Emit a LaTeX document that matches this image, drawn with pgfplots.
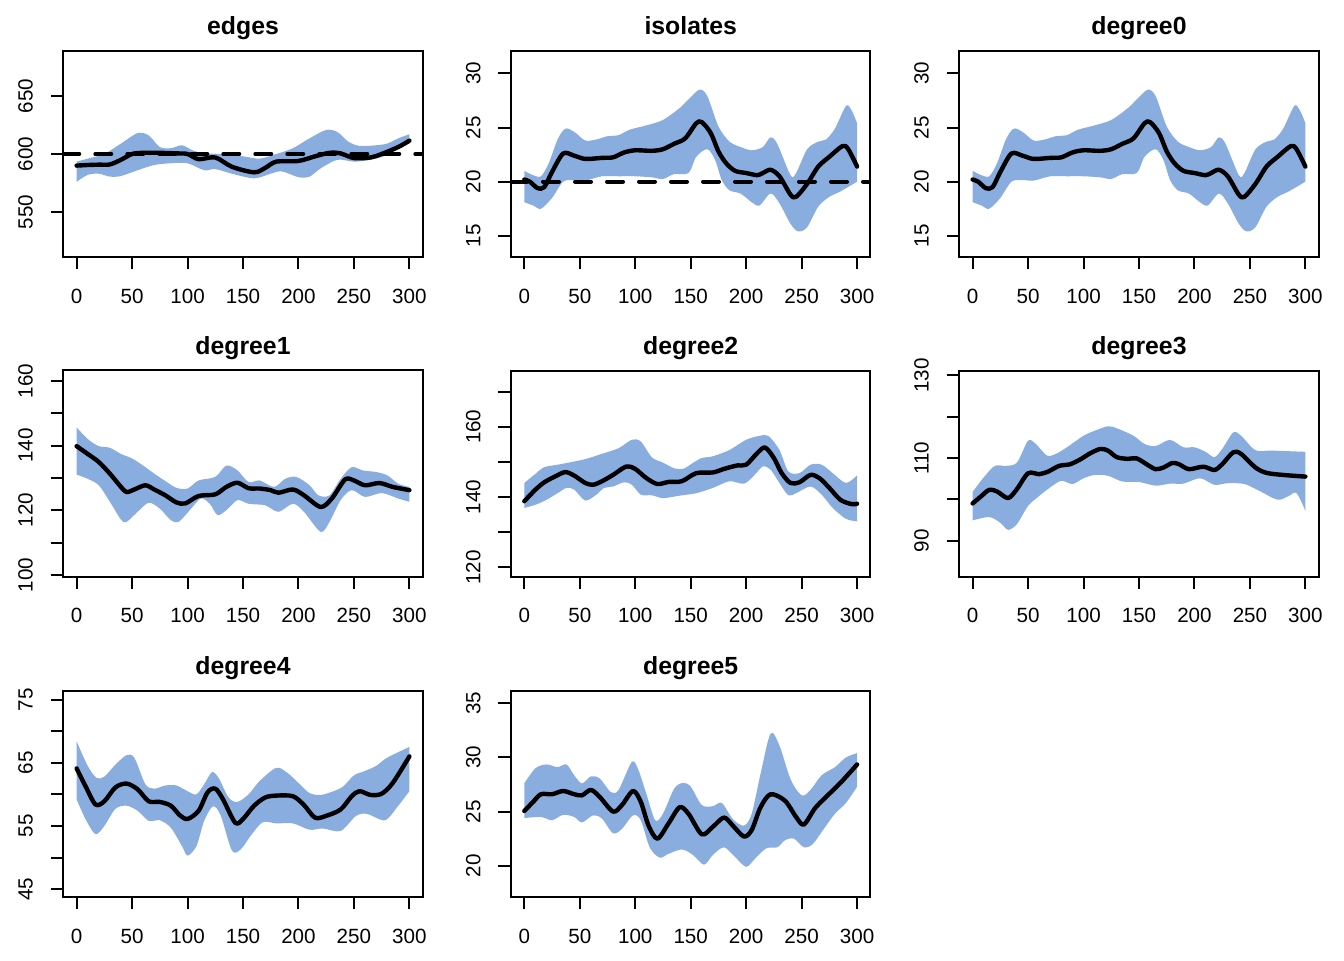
\documentclass[border=0pt]{standalone}
\usepackage{fontspec}
\setmainfont{Liberation Sans}
\usepackage{pgfplots}
\usepackage{pgfplotstable}
\pgfplotsset{compat=1.18}
\usepgfplotslibrary{fillbetween}

\definecolor{band}{RGB}{138,173,224}

% isolates and degree0 show the same simulation
\pgfplotstableread{
x y
0 20.2
5 20
12 19.4
18 19.5
25 20.9
35 22.6
45 22.4
55 22.1
70 22.2
80 22.25
90 22.7
100 22.9
115 22.85
125 23
135 23.5
145 24
155 25.4
160 25.5
168 24.5
175 22.8
182 21.7
190 21
200 20.8
210 20.6
215 20.8
222 21.1
230 20.5
240 18.8
245 18.6
255 19.8
265 21.4
275 22.3
287 23.3
292 23
300 21.4
}\isomean
\pgfplotstableread{
x y
0 21
8 20.6
15 20.5
22 21.7
30 23.9
37 24.9
45 24.6
55 23.8
65 23.9
75 24.2
85 24.3
95 24.8
110 25.2
125 25.7
140 26.8
148 27.6
158 28.5
165 27.9
175 25.1
185 23.7
195 23.2
205 22.9
215 23.2
222 24.1
228 23.5
240 20.6
245 20.8
255 23
265 23.7
272 23.9
280 24.9
290 27
295 26.6
300 25.4
}\isohi
\pgfplotstableread{
x y
0 18.1
8 17.8
15 17.5
25 18.5
35 20
45 20.15
55 20.1
70 20.5
85 20.5
100 20.5
115 20.4
125 20.25
135 20.7
148 20.8
155 22.3
165 23
172 22
178 20.15
185 19.2
195 18.9
205 18.1
212 17.8
222 18.9
230 18
240 16.1
247 15.4
255 15.8
265 17.7
275 18.6
285 19.1
300 20
}\isolo

\pgfplotsset{
  /pgf/number format/assume math mode=true,
  rpanel/.style={
    scale only axis, width=179.7pt, height=103pt,
    xmin=-12, xmax=312, xtick={0,50,...,300},
    axis line style={line width=1pt},
    every tick/.style={black, line width=1pt},
    tick align=outside, major tick length=6.35pt,
    xtick pos=bottom, ytick pos=left,
    ticklabel style={font=\fontsize{10.3}{12}\selectfont},
    xticklabel style={anchor=north, inner sep=0pt},
    xticklabel shift=9.45pt,
    yticklabel style={rotate=90, anchor=south, inner sep=0pt},
    yticklabel shift=8.65pt,
    title style={font=\bfseries\fontsize{12.4}{14}\selectfont,
      at={(0.5,1)}, anchor=base, yshift=2pt},
    anchor=south west,
  },
  hiline/.style={draw=none, smooth, name path=hi, forget plot},
  loline/.style={draw=none, smooth, name path=lo, forget plot},
  meanline/.style={black, line width=2.2pt, smooth, line cap=round, line join=round},
  refline/.style={black, line width=2pt, dash pattern=on 8pt off 8pt, line cap=round},
}

\begin{document}
\begin{tikzpicture}
\path (0,0) rectangle (672pt,480pt);

% ---- row 1 ----
\begin{axis}[rpanel, at={(31.65pt,351.65pt)}, title={edges},
  ymin=511.5, ymax=689, ytick={550,600,650}]
\addplot[hiline] coordinates {(0,593.4) (10,596) (25,600) (40,609) (55,618) (65,616) (75,606) (85,605) (95,607.5) (105,603) (115,600.6) (130,600) (150,598) (165,596) (180,600) (195,605) (210,613.5) (225,620.7) (235,619) (245,610.6) (255,607) (270,607.5) (280,609) (290,613.5) (300,617)};
\addplot[loline] coordinates {(0,576) (10,582) (20,583) (30,580.5) (40,581) (55,586) (70,590.5) (85,592) (100,592) (115,586) (125,587) (140,583) (160,579) (175,583) (185,585) (200,580) (210,580.5) (220,587.6) (235,595) (250,593.4) (265,595) (280,599) (290,605) (300,609)};
\addplot[fill=band, draw=none] fill between[of=hi and lo];
\addplot[refline] coordinates {(-12,600) (312,600)};
\addplot[meanline] coordinates {(0,590) (10,590.5) (20,590.8) (30,591) (40,595) (50,600) (60,601) (75,601) (90,600.5) (100,600) (110,595.5) (125,597) (140,589) (160,584.2) (170,588) (180,593.4) (200,594) (215,598) (228,601) (238,600.5) (250,596.5) (265,597) (275,600) (290,606) (300,611.5)};
\end{axis}

\begin{axis}[rpanel, at={(255.5pt,351.65pt)}, title={isolates},
  ymin=13.07, ymax=32.1, ytick={15,20,25,30}]
\addplot[hiline] table {\isohi};
\addplot[loline] table {\isolo};
\addplot[fill=band, draw=none] fill between[of=hi and lo];
\addplot[refline] coordinates {(-12,20) (312,20)};
\addplot[meanline] table {\isomean};
\end{axis}

\begin{axis}[rpanel, at={(479.65pt,351.65pt)}, title={degree0},
  ymin=13.07, ymax=32.1, ytick={15,20,25,30}]
\addplot[hiline] table {\isohi};
\addplot[loline] table {\isolo};
\addplot[fill=band, draw=none] fill between[of=hi and lo];
\addplot[meanline] table {\isomean};
\end{axis}

% ---- row 2 ----
\begin{axis}[rpanel, at={(31.65pt,191.75pt)}, title={degree1},
  ymin=99.5, ymax=163.2, ytick={100,110,...,160}, yticklabels={100,,120,,140,,160}]
\addplot[hiline] coordinates {(0,145.6) (10,142) (20,139.8) (30,139.3) (40,137.4) (50,136) (60,133.8) (70,131.3) (80,129) (90,126.9) (100,126.7) (110,129.2) (125,130.3) (135,133.8) (145,132.3) (155,128.7) (165,129.2) (178,127.2) (188,129.7) (198,130.3) (210,127.7) (218,124.6) (228,124.6) (238,129.7) (248,133.3) (258,132.3) (270,131.8) (280,130.8) (290,128.2) (300,127.2)};
\addplot[loline] coordinates {(0,131) (10,129.7) (20,127.7) (30,122.6) (40,117.1) (45,116.4) (55,119.5) (65,122.3) (75,120.5) (85,116.9) (92,116.4) (102,120) (112,123.6) (120,122) (127,118.5) (135,120) (145,123.1) (155,122) (170,121.5) (182,119.5) (195,122) (205,119.5) (220,113.3) (228,116.4) (238,123.1) (248,126.2) (260,124.1) (275,125.3) (290,123.6) (300,122.6)};
\addplot[fill=band, draw=none] fill between[of=hi and lo];
\addplot[meanline] coordinates {(0,139.8) (10,137.4) (20,134.9) (30,131.3) (40,127.2) (45,125.6) (52,126.4) (62,127.7) (70,126.4) (80,124.6) (90,122.4) (98,122.1) (110,124.4) (125,124.9) (135,127.2) (145,128.5) (155,126.8) (165,126.7) (175,126.2) (182,125.4) (195,126.4) (205,124.6) (220,121) (230,123.6) (242,129.5) (250,129.2) (260,127.7) (273,128.4) (285,127.2) (300,126.2)};
\end{axis}

\begin{axis}[rpanel, at={(255.5pt,191.75pt)}, title={degree2},
  ymin=117.4, ymax=176, ytick={120,130,...,170}, yticklabels={120,,140,,160,}]
\addplot[hiline] coordinates {(0,144) (10,146.6) (18,148.5) (30,149.2) (40,149.8) (55,150.8) (70,152.3) (85,153.9) (97,156.3) (105,155.8) (115,151.3) (125,149.8) (135,148.2) (143,148) (152,149.7) (160,151.1) (170,151.6) (185,153.4) (200,156.3) (212,157.4) (220,157.4) (230,153.4) (238,147.3) (248,146.8) (258,149.2) (268,149.2) (278,146.8) (290,144) (300,146.2)};
\addplot[loline] coordinates {(0,136.9) (10,137.8) (20,139.2) (30,141.1) (38,142.6) (45,142.1) (55,139) (65,140.7) (72,142.6) (80,143) (90,144.2) (97,143.5) (105,140.7) (115,140.5) (125,139.7) (140,140.4) (155,141.1) (170,142.6) (185,144.5) (198,143.8) (207,146.1) (215,148.7) (222,147.8) (230,144) (238,140.5) (245,141.1) (258,143) (268,140.7) (278,136.9) (290,133.8) (300,133.1)};
\addplot[fill=band, draw=none] fill between[of=hi and lo];
\addplot[meanline] coordinates {(0,138.8) (10,142.1) (18,144.2) (28,145.9) (37,147.1) (45,146.1) (55,144) (62,143.5) (70,144.5) (80,146.3) (92,148.7) (100,148) (110,145.4) (120,143.7) (130,144.3) (142,144.5) (155,146.8) (170,147) (180,148) (192,149) (200,149.2) (210,152.5) (217,154.1) (225,151.1) (232,146.8) (240,144) (248,144.2) (258,146.3) (266,145.4) (275,142.6) (285,139.2) (295,138) (300,138.1)};
\end{axis}

\begin{axis}[rpanel, at={(479.65pt,191.75pt)}, title={degree3},
  ymin=81.3, ymax=131.2, ytick={90,100,...,130}, yticklabels={90,,110,,130}]
\addplot[hiline] coordinates {(0,101.8) (10,105.3) (20,108.1) (30,108.1) (40,108.9) (50,114.2) (57,113.4) (67,110.6) (75,111) (85,112.6) (100,115.4) (110,116.6) (122,117.7) (130,117.2) (145,115.4) (155,113.4) (165,112.9) (178,114.4) (190,112.6) (200,112.6) (210,111.5) (218,110.2) (225,112.2) (235,116.2) (242,115.4) (255,111.9) (270,111.8) (300,111.5)};
\addplot[loline] coordinates {(0,94.9) (15,95.7) (25,94.3) (32,92.6) (40,94) (50,98.4) (60,100.8) (70,102.9) (80,104.5) (90,103.7) (100,105.1) (110,105.9) (122,105.7) (135,104.3) (150,104.2) (165,103.3) (178,103.8) (190,103.8) (205,105.1) (218,103.5) (230,103.9) (245,103.7) (258,102.1) (275,99.9) (285,100.8) (292,101.5) (300,97.2)};
\addplot[fill=band, draw=none] fill between[of=hi and lo];
\addplot[meanline] coordinates {(0,99) (8,100.8) (15,102.3) (22,101.9) (32,100.3) (40,102.5) (50,106.3) (60,106.1) (68,106.7) (78,108.1) (88,108.5) (98,109.8) (105,111) (115,112.2) (122,111.8) (130,110.2) (140,109.8) (148,109.9) (158,108.3) (165,107.3) (172,107.7) (180,108.8) (186,108.5) (195,107.3) (208,107.9) (218,107.1) (225,108.5) (235,111.4) (242,111) (255,107.7) (265,106.4) (280,105.9) (300,105.5)};
\end{axis}

% ---- row 3 ----
\begin{axis}[rpanel, at={(31.65pt,31.65pt)}, title={degree4},
  ymin=43.8, ymax=76.4, ytick={45,50,...,75}, yticklabels={45,,55,,65,,75}]
\addplot[hiline] coordinates {(0,68.4) (10,64.5) (18,62.6) (25,62.8) (35,64.7) (45,66.2) (52,65.8) (62,61.6) (70,60.9) (80,61.4) (90,61.4) (100,60.5) (108,60) (115,61.6) (122,63.5) (128,62.6) (137,59.5) (145,58.8) (155,60) (165,62.1) (180,64.2) (190,63.4) (200,61.8) (210,60.2) (220,59.9) (230,60.4) (240,61.2) (250,63) (260,63.7) (270,64.5) (280,65.8) (300,67.5)};
\addplot[loline] coordinates {(0,59.2) (8,56.1) (17,53.7) (25,55) (35,57.7) (45,58.2) (55,57.4) (65,55.8) (75,55.9) (85,54.7) (95,51.8) (100,50.3) (108,51.8) (115,55.8) (123,58.1) (130,56.6) (140,51.1) (148,51.3) (158,53.7) (168,55.6) (180,55.4) (195,55.4) (210,54.4) (222,54.6) (238,54.2) (252,56.6) (262,56.9) (278,55.9) (290,58.2) (300,60.5)};
\addplot[fill=band, draw=none] fill between[of=hi and lo];
\addplot[meanline] coordinates {(0,64.1) (8,61.3) (17,58.4) (25,58.9) (35,61.1) (45,61.7) (55,60.8) (65,58.9) (75,58.8) (85,58.2) (93,56.7) (100,56.1) (110,57.4) (118,60.3) (125,60.9) (132,59.2) (143,55.5) (150,56.1) (160,58.2) (170,59.5) (180,59.8) (195,59.7) (205,58.3) (215,56.3) (225,56.6) (238,57.6) (248,59.7) (255,60.5) (265,59.9) (275,60.1) (285,61.8) (300,66)};
\end{axis}

\begin{axis}[rpanel, at={(255.5pt,31.65pt)}, title={degree5},
  ymin=17.14, ymax=36.16, ytick={20,25,30,35}]
\addplot[hiline] coordinates {(0,27.6) (10,29) (20,29.35) (30,29.1) (38,29.35) (45,28.35) (52,27.6) (60,28.25) (68,28.05) (78,26.8) (85,27) (97,29.6) (103,28.8) (110,26.65) (118,24.2) (125,24.8) (135,27.1) (143,27.65) (150,27.3) (160,25.6) (170,25.5) (178,25.8) (188,24.3) (198,23.7) (205,24.8) (213,28.5) (222,32.2) (230,31.1) (240,28) (250,26.5) (258,27) (268,28.35) (280,29.1) (290,30) (300,30.4)};
\addplot[loline] coordinates {(0,24.4) (15,24.5) (25,24.2) (35,24.7) (45,24.5) (52,24) (62,24.65) (70,24.35) (80,23) (88,23.4) (98,24.65) (105,24.2) (113,21.7) (122,20.75) (130,21.1) (142,21.5) (152,21) (162,20.1) (170,21) (180,21.7) (190,20.8) (200,19.9) (208,20.65) (218,21.6) (228,21.7) (235,22.35) (243,22.5) (252,21.7) (260,22) (270,23.4) (280,24.8) (290,25.8) (300,27.3)};
\addplot[fill=band, draw=none] fill between[of=hi and lo];
\addplot[meanline] coordinates {(0,25.05) (8,25.9) (15,26.6) (25,26.6) (35,26.9) (45,26.6) (52,26.5) (60,27) (68,26.35) (80,25) (88,25.6) (98,26.9) (105,25.9) (112,23.7) (120,22.5) (130,23.9) (140,25.4) (148,24.8) (160,22.9) (170,23.6) (180,24.45) (188,23.7) (198,22.7) (205,23.3) (213,25.4) (222,26.6) (235,26) (245,24.5) (252,23.8) (262,25.3) (272,26.35) (285,27.65) (300,29.35)};
\end{axis}
\end{tikzpicture}
\end{document}
